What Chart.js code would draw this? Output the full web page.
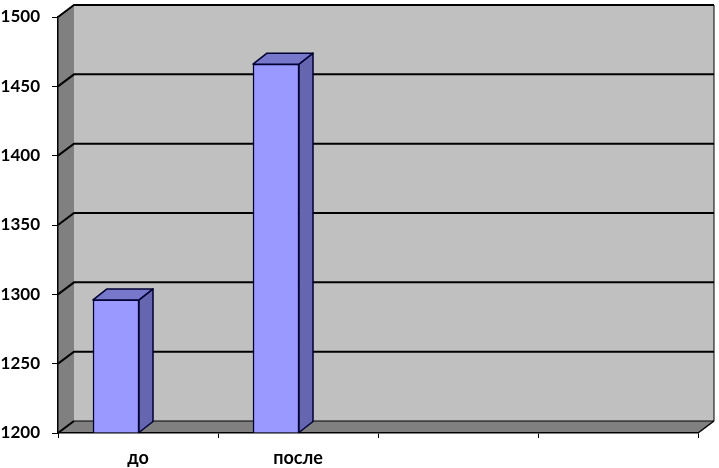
<!DOCTYPE html>
<html lang="ru">
<head>
  <meta charset="UTF-8">
  <title>до / после</title>
  <script src="https://cdn.jsdelivr.net/npm/chart.js@4.4.1/dist/chart.umd.min.js"></script>
  <style>
    * { margin: 0; padding: 0; }
    body { background: #fff; }
  </style>
</head>
<body>
  <canvas id="chart" width="719" height="468"></canvas>

  <script>
    // data
    const categories = ['до', 'после', '', ''];
    const values = [1296, 1466, null, null];
    const yTicks = { min: 1200, max: 1500, step: 50 };

    // 3d look
    const wallDx = 16, wallDy = -12;   // back wall offset
    const barDx = 14, barDy = -11;     // bar depth
    const barShift = -22;              // bars sit left of category centre

    const walls3d = {
      id: 'walls3d',
      beforeDraw(chart) {
        const ctx = chart.ctx;
        const a = chart.chartArea;
        const y = chart.scales.y;
        ctx.save();
        // back wall
        ctx.fillStyle = '#c0c0c0';
        ctx.fillRect(a.left + wallDx, a.top + wallDy, a.right - a.left, a.bottom - a.top);
        // left wall
        ctx.fillStyle = '#808080';
        ctx.beginPath();
        ctx.moveTo(a.left, a.top);
        ctx.lineTo(a.left + wallDx, a.top + wallDy);
        ctx.lineTo(a.left + wallDx, a.bottom + wallDy);
        ctx.lineTo(a.left, a.bottom);
        ctx.closePath();
        ctx.fill();
        // floor
        ctx.beginPath();
        ctx.moveTo(a.left, a.bottom);
        ctx.lineTo(a.left + wallDx, a.bottom + wallDy);
        ctx.lineTo(a.right + wallDx, a.bottom + wallDy);
        ctx.lineTo(a.right, a.bottom);
        ctx.closePath();
        ctx.fill();

        // gridlines
        ctx.strokeStyle = '#000';
        ctx.lineWidth = 2;
        for (let v = yTicks.min; v <= yTicks.max; v += yTicks.step) {
          const py = y.getPixelForValue(v);
          ctx.beginPath();
          ctx.moveTo(a.left, py);
          ctx.lineTo(a.left + wallDx, py + wallDy);
          if (v > yTicks.min) ctx.lineTo(a.right + wallDx, py + wallDy);
          ctx.stroke();
        }
        // outline
        ctx.lineWidth = 1;
        ctx.beginPath();
        ctx.moveTo(a.right + wallDx, a.top + wallDy);
        ctx.lineTo(a.right + wallDx, a.bottom + wallDy);
        ctx.moveTo(a.left + wallDx, a.bottom + wallDy);
        ctx.lineTo(a.right + wallDx, a.bottom + wallDy);
        ctx.stroke();
        ctx.lineWidth = 1.5;
        ctx.beginPath();
        ctx.moveTo(a.right, a.bottom);
        ctx.lineTo(a.right + wallDx, a.bottom + wallDy);
        ctx.stroke();
        ctx.restore();
      },
      beforeDatasetDraw(chart) {
        chart.ctx.save();
        chart.ctx.translate(barShift, 0);
      },
      afterDatasetDraw(chart, args) {
        const ctx = chart.ctx;
        ctx.strokeStyle = '#000033';
        ctx.lineWidth = 1.5;
        ctx.lineJoin = 'round';
        args.meta.data.forEach((bar, i) => {
          if (values[i] == null) return;
          const { x, y, base, width } = bar.getProps(['x', 'y', 'base', 'width'], true);
          const l = x - width / 2, r = x + width / 2;
          // side
          ctx.fillStyle = '#6666b0';
          ctx.beginPath();
          ctx.moveTo(r, y);
          ctx.lineTo(r + barDx, y + barDy);
          ctx.lineTo(r + barDx, base + barDy);
          ctx.lineTo(r, base);
          ctx.closePath();
          ctx.fill();
          ctx.stroke();
          // top
          ctx.fillStyle = '#7777cc';
          ctx.beginPath();
          ctx.moveTo(l, y);
          ctx.lineTo(l + barDx, y + barDy);
          ctx.lineTo(r + barDx, y + barDy);
          ctx.lineTo(r, y);
          ctx.closePath();
          ctx.fill();
          ctx.stroke();
        });
        ctx.restore();
      }
    };

    new Chart(document.getElementById('chart'), {
      type: 'bar',
      data: {
        labels: categories,
        datasets: [{
          data: values,
          base: yTicks.min,
          backgroundColor: '#9999ff',
          borderColor: '#000033',
          borderWidth: 1.5,
          barThickness: 46,
          clip: false
        }]
      },
      options: {
        responsive: false,
        animation: false,
        devicePixelRatio: 1,
        layout: { padding: { top: 17, right: 21, left: 0, bottom: 0 } },
        plugins: { legend: { display: false }, tooltip: { enabled: false } },
        scales: {
          x: {
            grid: { drawOnChartArea: false, offset: true, tickLength: 5, color: '#000' },
            border: { color: '#000', width: 1.5 },
            ticks: {
              color: '#000', padding: 9, maxRotation: 0,
              font: { family: 'Lato', size: 18, weight: 'bold' }
            },
            afterFit(scale) {
              scale.height = 35;
              scale.paddingLeft = 0;
              scale.paddingRight = 0;
            }
          },
          y: {
            min: yTicks.min,
            max: yTicks.max,
            grid: { drawOnChartArea: false, tickLength: 6, color: '#000' },
            border: { color: '#000', width: 1.5 },
            ticks: {
              stepSize: yTicks.step, color: '#000', padding: 12,
              font: { family: 'Lato', size: 17, weight: 'bold' },
              callback: v => String(v)
            },
            afterFit(scale) {
              scale.width = 58;
              scale.paddingTop = 0;
              scale.paddingBottom = 0;
            }
          }
        }
      },
      plugins: [walls3d]
    });
  </script>
</body>
</html>
